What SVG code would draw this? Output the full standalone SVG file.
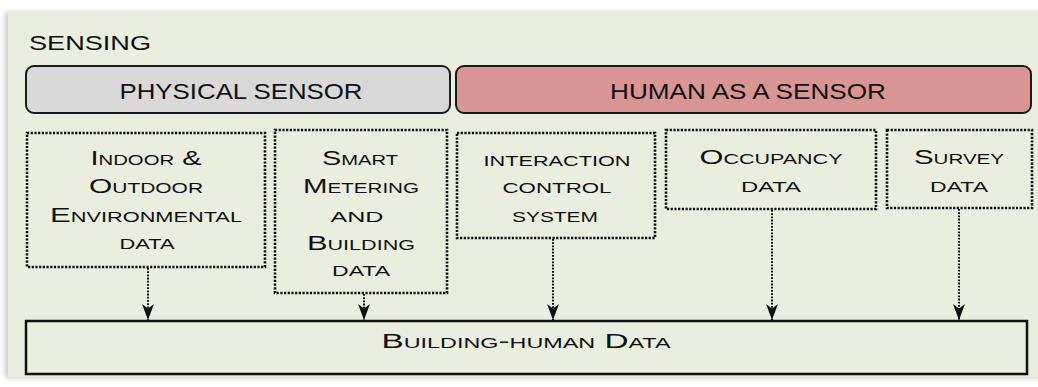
<svg xmlns="http://www.w3.org/2000/svg" width="1038" height="387" viewBox="0 0 1038 387">
<defs>
<style>
.t{font-family:"Liberation Sans","DejaVu Sans",sans-serif;fill:#111;text-anchor:middle;font-variant:small-caps;font-size:20px}
.hdr{font-family:"Liberation Sans","DejaVu Sans",sans-serif;fill:#111;text-anchor:middle;font-size:22px}
.dot{fill:none;stroke:#111;stroke-width:2.6;stroke-dasharray:2.2 1.5}
.con{fill:none;stroke:#111;stroke-width:2;stroke-dasharray:1.8 1.4}
</style>
<filter id="sh" x="-5%" y="-5%" width="110%" height="110%">
<feDropShadow dx="-3" dy="1" stdDeviation="2.5" flood-color="#000" flood-opacity="0.2"/>
</filter>
<marker id="ah" viewBox="0 0 16 12" refX="16" refY="6" markerWidth="16" markerHeight="12" markerUnits="userSpaceOnUse" orient="auto">
<path d="M0,0 L16,6 L0,12 L4.5,6 Z" fill="#111"/>
</marker>
</defs>
<rect x="0" y="0" width="1038" height="387" fill="#ffffff"/>
<g id="panel">
<rect x="8" y="11" width="1040" height="366" fill="#eaeedf" filter="url(#sh)"/>
<text x="29" y="50" font-family="Liberation Sans, DejaVu Sans, sans-serif" font-size="21" fill="#111" textLength="122" lengthAdjust="spacingAndGlyphs">SENSING</text>
</g>
<g id="physical-sensor">
<rect x="26" y="66" width="424" height="47" rx="8" fill="#d9d9d9" stroke="#1a1a1a" stroke-width="2"/>
<text class="hdr" x="241" y="99" textLength="243" lengthAdjust="spacingAndGlyphs">PHYSICAL SENSOR</text>
</g>
<g id="human-sensor">
<rect x="456" y="66" width="575" height="47" rx="8" fill="#d99594" stroke="#1a1a1a" stroke-width="2"/>
<text class="hdr" x="748" y="99" textLength="276" lengthAdjust="spacingAndGlyphs">HUMAN AS A SENSOR</text>
</g>
<g id="indoor-outdoor">
<rect class="dot" x="27" y="133" width="238" height="134"/>
<text class="t" x="146" y="165" textLength="111" lengthAdjust="spacingAndGlyphs">Indoor &amp;</text>
<text class="t" x="146" y="193" textLength="114" lengthAdjust="spacingAndGlyphs">Outdoor</text>
<text class="t" x="146" y="222" textLength="192" lengthAdjust="spacingAndGlyphs">Environmental</text>
<text class="t" x="147" y="249" textLength="55" lengthAdjust="spacingAndGlyphs">data</text>
</g>
<g id="smart-metering">
<rect class="dot" x="275" y="130" width="172" height="163"/>
<text class="t" x="360" y="165" textLength="76" lengthAdjust="spacingAndGlyphs">Smart</text>
<text class="t" x="361" y="193" textLength="116" lengthAdjust="spacingAndGlyphs">Metering</text>
<text class="t" x="357" y="222" textLength="53" lengthAdjust="spacingAndGlyphs">and</text>
<text class="t" x="361" y="250" textLength="108" lengthAdjust="spacingAndGlyphs">Building</text>
<text class="t" x="361" y="276" textLength="58" lengthAdjust="spacingAndGlyphs">data</text>
</g>
<g id="interaction">
<rect class="dot" x="457" y="133" width="198" height="105"/>
<text class="t" x="557" y="166" textLength="147" lengthAdjust="spacingAndGlyphs">interaction</text>
<text class="t" x="557" y="193" textLength="109" lengthAdjust="spacingAndGlyphs">control</text>
<text class="t" x="555" y="222" textLength="86" lengthAdjust="spacingAndGlyphs">system</text>
</g>
<g id="occupancy">
<rect class="dot" x="666" y="130" width="210" height="79"/>
<text class="t" x="771" y="164" textLength="143" lengthAdjust="spacingAndGlyphs">Occupancy</text>
<text class="t" x="771" y="192" textLength="60" lengthAdjust="spacingAndGlyphs">data</text>
</g>
<g id="survey">
<rect class="dot" x="887" y="130" width="145" height="78"/>
<text class="t" x="959" y="164" textLength="90" lengthAdjust="spacingAndGlyphs">Survey</text>
<text class="t" x="959" y="192" textLength="58" lengthAdjust="spacingAndGlyphs">data</text>
</g>
<g id="building-human">
<rect x="26" y="321" width="1001" height="53" fill="none" stroke="#111" stroke-width="2.5"/>
<text class="t" x="526" y="348" font-size="22" textLength="289" lengthAdjust="spacingAndGlyphs">Building-human Data</text>
</g>
<g id="connectors">
<line class="con" x1="148" y1="268" x2="148" y2="320" marker-end="url(#ah)"/>
<line class="con" x1="364" y1="294" x2="364" y2="320" marker-end="url(#ah)"/>
<line class="con" x1="553" y1="239" x2="553" y2="320" marker-end="url(#ah)"/>
<line class="con" x1="772" y1="210" x2="772" y2="320" marker-end="url(#ah)"/>
<line class="con" x1="959" y1="209" x2="959" y2="320" marker-end="url(#ah)"/>
</g>
</svg>
